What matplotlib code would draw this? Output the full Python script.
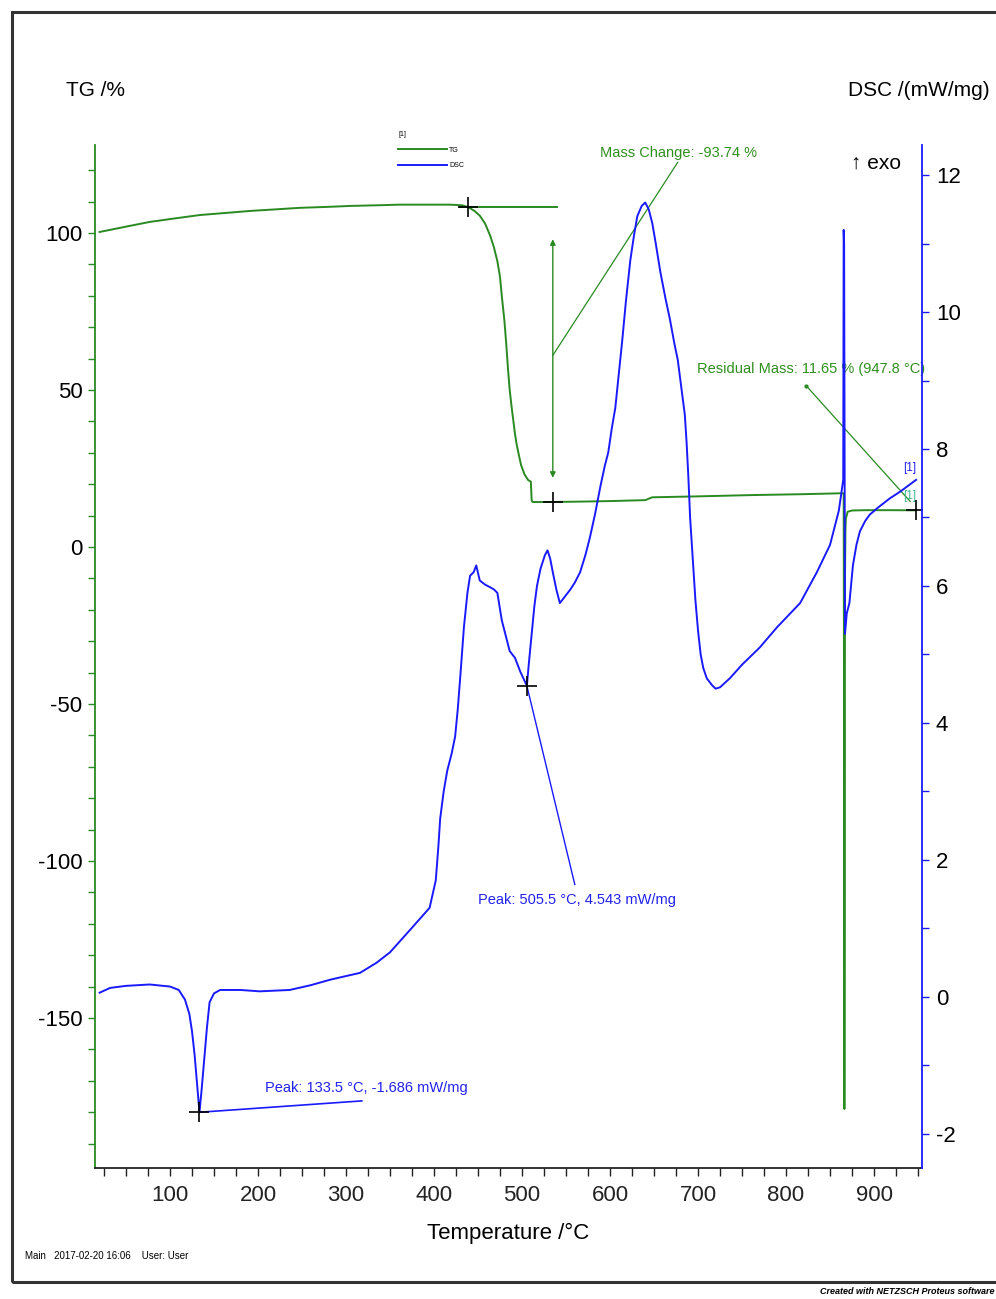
import matplotlib
matplotlib.use("Agg")
import matplotlib.pyplot as plt
from matplotlib import font_manager
from matplotlib.patches import Rectangle
from matplotlib.ticker import MultipleLocator
from matplotlib.lines import Line2D

# ---------------- data ----------------
tg_T = [20, 50, 77, 105, 134, 165, 191, 220, 248, 280, 305, 335, 361, 390, 418, 432, 439,
        446, 452, 458, 464, 468, 472, 475, 477, 480, 482, 484, 486, 488, 490, 492, 494, 497,
        499, 503, 507, 510, 511, 512, 530, 560, 600, 640, 648, 700, 760, 820, 865.5, 866.0,
        866.3, 866.6, 867.0, 867.5, 868, 870, 875, 890, 920, 947.8]
tg_val = [100.3, 102, 103.5, 104.6, 105.7, 106.4, 107, 107.5, 108, 108.3, 108.6, 108.8, 109,
          109, 109, 108.8, 108.2, 107, 105.5, 103, 99, 95.5, 91, 86, 80, 72, 65, 57, 50, 45,
          40.5, 36, 32.5, 28.5, 26, 23, 21.3, 20.8, 14.8, 14.3, 14.3, 14.4, 14.6, 14.9, 15.8,
          16.1, 16.5, 16.8, 17.1, -60, -179, -120, -10, 5, 9, 11.2, 11.6, 11.7, 11.7, 11.65]

dsc_T = [20, 32, 50, 77, 100, 110, 117, 122, 125, 128, 131, 133.5, 136, 139, 142, 145, 150,
         157, 180, 202, 236, 260, 282, 316, 335, 350, 373, 395, 402, 405, 407, 411, 415, 420,
         424, 427, 430, 434, 438, 441, 445, 448, 452, 458, 464, 468, 472, 477, 482, 486, 492,
         498, 505.5, 508, 511, 514, 517, 521, 526, 529, 532, 535, 539, 543, 549, 555, 560, 566,
         572, 577, 583, 589, 594, 598, 602, 606, 610, 614, 618, 623, 627, 631, 636, 640, 644,
         648, 652, 657, 663, 668, 673, 677, 681, 685, 687, 689, 691, 694, 697, 700, 703, 706,
         710, 716, 720, 725, 730, 736, 750, 770, 790, 816, 835, 850, 860, 865, 865.5, 866,
         866.5, 867, 869, 872, 876, 880, 884, 890, 895, 905, 918, 930, 947.8]
dsc_val = [0.06, 0.13, 0.16, 0.18, 0.15, 0.1, -0.04, -0.25, -0.5, -0.85, -1.3, -1.686, -1.35,
           -0.9, -0.45, -0.08, 0.05, 0.1, 0.1, 0.08, 0.1, 0.17, 0.25, 0.35, 0.5, 0.65, 0.98, 1.3,
           1.7, 2.2, 2.6, 3.0, 3.3, 3.55, 3.8, 4.2, 4.7, 5.4, 5.9, 6.15, 6.2, 6.3, 6.08, 6.02,
           5.98, 5.95, 5.9, 5.5, 5.25, 5.05, 4.95, 4.75, 4.543, 4.9, 5.3, 5.7, 6.0, 6.25, 6.45,
           6.52, 6.4, 6.2, 5.95, 5.75, 5.85, 5.95, 6.05, 6.2, 6.45, 6.7, 7.05, 7.45, 7.75, 7.95,
           8.3, 8.6, 9.1, 9.6, 10.15, 10.75, 11.1, 11.4, 11.55, 11.6, 11.5, 11.3, 11.0, 10.6,
           10.2, 9.9, 9.55, 9.3, 8.9, 8.5, 8.1, 7.6, 7.0, 6.4, 5.8, 5.35, 5.0, 4.8, 4.65, 4.55,
           4.5, 4.52, 4.58, 4.65, 4.85, 5.1, 5.4, 5.75, 6.2, 6.6, 7.1, 7.55, 11.2, 11.0, 8.0,
           5.3, 5.6, 5.75, 6.3, 6.6, 6.8, 6.95, 7.04, 7.15, 7.28, 7.38, 7.55]

onset_T, onset_TG = 439, 108.2
mass_change = -93.74
mass_T = 535
residual_T, residual_TG = 947.8, 11.65
peak1_T, peak1_dsc = 133.5, -1.686
peak2_T, peak2_dsc = 505.5, 4.543

x_ticks = [100, 200, 300, 400, 500, 600, 700, 800, 900]
tg_ticks = [-150, -100, -50, 0, 50, 100]
dsc_ticks = [-2, 0, 2, 4, 6, 8, 10, 12]

# ---------------- style ----------------
names = {f.name for f in font_manager.fontManager.ttflist}
FONT = "Liberation Sans Narrow" if "Liberation Sans Narrow" in names else "Liberation Sans"
plt.rcParams["font.family"] = [FONT, "DejaVu Sans"]
plt.rcParams["axes.unicode_minus"] = False

GREEN = "#2a8a22"
BLUE = "#1a1aff"
TGREEN = "#2f8f1f"
TBLUE = "#2222ee"

W, H = 996, 1299
fig = plt.figure(figsize=(W / 100, H / 100), dpi=100)
ax = fig.add_axes([95 / W, 1 - 1168 / H, (922 - 95) / W, (1168 - 145) / H])
ax2 = ax.twinx()

ax.set_xlim(14.8, 954.5)
ax.set_ylim(-197.8, 128)
ax2.set_ylim(-2.50, 12.44)

for a in (ax, ax2):
    a.spines["top"].set_visible(False)
    a.patch.set_visible(False)
ax.spines["right"].set_visible(False)
ax2.spines["left"].set_visible(False)
ax2.spines["bottom"].set_visible(False)
ax.spines["left"].set_color(GREEN)
ax.spines["left"].set_linewidth(1.3)
ax2.spines["right"].set_color(BLUE)
ax2.spines["right"].set_linewidth(1.3)
ax.spines["bottom"].set_color("#222222")
ax.spines["bottom"].set_linewidth(1.3)

ax.set_xticks(x_ticks)
ax.xaxis.set_minor_locator(MultipleLocator(25))
ax.set_yticks(tg_ticks)
ax.yaxis.set_minor_locator(MultipleLocator(10))
ax2.set_yticks(dsc_ticks)
ax2.yaxis.set_minor_locator(MultipleLocator(1))

ax.tick_params(axis="x", which="both", direction="out", length=6, width=1, colors="#222222",
               labelsize=16, pad=6)
ax.tick_params(axis="y", which="both", direction="out", length=5, width=1, color=GREEN,
               labelcolor="black", labelsize=16, pad=4)
ax2.tick_params(axis="y", which="both", direction="out", length=5, width=1, color=BLUE,
                labelcolor="black", labelsize=16, pad=5)

# curves
ax.plot(tg_T, tg_val, color=GREEN, lw=1.4, zorder=3)
ax2.plot(dsc_T, dsc_val, color=BLUE, lw=1.4, zorder=3)

# TG evaluation: tangent, arrow, crosses
ax.plot([onset_T - 10, mass_T + 5], [onset_TG, onset_TG], color=GREEN, lw=1.4, zorder=3)
ax.annotate("", xy=(mass_T, 22), xytext=(mass_T, 98),
            arrowprops=dict(arrowstyle="<|-|>", color=GREEN, lw=1.0, mutation_scale=8,
                            shrinkA=0, shrinkB=0))
ax.plot([mass_T, 677], [61, 122.5], color=GREEN, lw=0.9)
ax.text(589, 125.5, f"Mass Change: {mass_change:.2f} %", color=TGREEN, fontsize=10.5,
        ha="left", va="center")
ax.plot([onset_T, mass_T, residual_T], [onset_TG, onset_TG + mass_change, residual_TG],
        linestyle="none", marker="+", color="black", ms=14, mew=1.2, zorder=5)

# residual mass
ax.plot([823, 941], [51.3, 14.5], color=GREEN, lw=0.9)
ax.plot([823], [51.3], marker="o", ms=2, color=GREEN)
ax.text(699, 56.7, f"Residual Mass: {residual_TG:.2f} % ({residual_T:.1f} °C)", color=TGREEN,
        fontsize=10.5, ha="left", va="center")
ax.text(941, 16.2, "[1]", color="#3cb88a", fontsize=8.5, ha="center", va="center")
ax2.text(941, 7.72, "[1]", color=TBLUE, fontsize=8.5, ha="center", va="center")

# DSC peaks
ax2.plot([peak1_T, peak2_T], [peak1_dsc, peak2_dsc], linestyle="none", marker="+",
         color="black", ms=14, mew=1.2, zorder=5)
ax2.plot([peak1_T, 318], [peak1_dsc, -1.52], color=BLUE, lw=1.2)
ax2.text(208, -1.33, f"Peak: {peak1_T} °C, {peak1_dsc} mW/mg", color=TBLUE, fontsize=10.5,
         ha="left", va="center")
ax2.plot([peak2_T, 560], [peak2_dsc, 1.64], color=BLUE, lw=1.0)
ax2.text(450, 1.42, f"Peak: {peak2_T} °C, {peak2_dsc} mW/mg", color=TBLUE, fontsize=10.5,
         ha="left", va="center")

# legend
handles = [Line2D([], [], color=GREEN, lw=1.4), Line2D([], [], color=BLUE, lw=1.4)]
leg = ax.legend(handles, ["TG", "DSC"], title="[1]", loc="upper left",
                bbox_to_anchor=(395 / W, 1 - 128 / H), bbox_transform=fig.transFigure,
                frameon=False, fontsize=5, title_fontsize=5, handlelength=7,
                handletextpad=0.3, labelspacing=1.2, borderpad=0, alignment="left")

# titles
fig.text(95 / W, 1 - 90 / H, "TG /%", fontsize=15, ha="center", va="center")
fig.text(990 / W, 1 - 90 / H, "DSC /(mW/mg)", fontsize=15, ha="right", va="center")
fig.text(876 / W, 1 - 163 / H, "↑ exo", fontsize=15, ha="center", va="center")
fig.text(508 / W, 1 - 1233 / H, "Temperature /°C", fontsize=16, ha="center", va="center")
fig.text(25 / W, 1 - 1256 / H, "Main   2017-02-20 16:06    User: User", fontsize=7,
         ha="left", va="center")
fig.text(994 / W, 1 - 1292 / H, "Created with NETZSCH Proteus software", fontsize=6.5,
         ha="right", va="center", style="italic", weight="bold")

# outer frame
fig.add_artist(Rectangle((12 / W, 1 - 1282 / H), (1200 - 12) / W, (1282 - 12) / H,
                         transform=fig.transFigure, fill=False, lw=2.2, ec="#333333"))

fig.savefig("out.png", dpi=100)
